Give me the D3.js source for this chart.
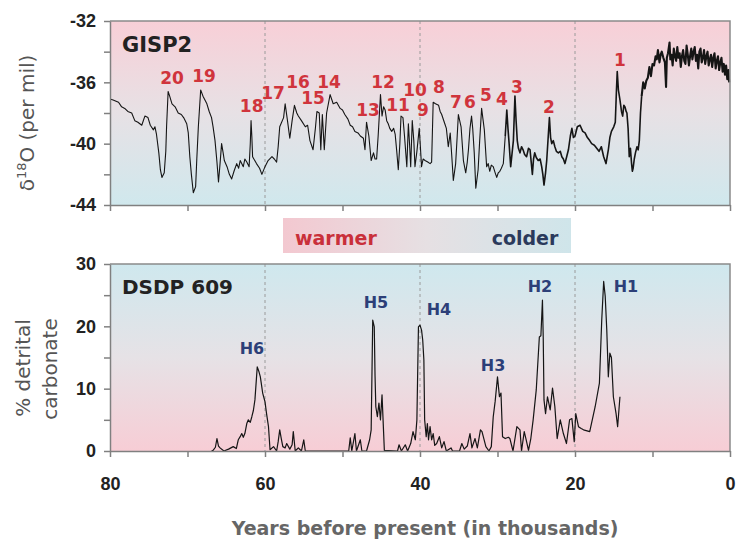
<!DOCTYPE html>
<html>
<head>
<meta charset="utf-8">
<script src="https://cdn.jsdelivr.net/npm/d3@7/dist/d3.min.js"></script>
<style>
body { margin: 0; background: #fff; }
svg { display: block; font-family: "DejaVu Sans", sans-serif; }
.axis path, .axis line { stroke: #808080; stroke-width: 1.5; }
.axis text { font-size: 18px; font-weight: bold; fill: #222; }
</style>
</head>
<body>
<svg id="chart" width="736" height="540"></svg>
<script>

// GISP2 oxygen isotope record (ka BP, per mil)
const GISP_AGE = [79.9,79.6,78.9,78.5,78.1,77.7,77.2,76.8,76.4,75.9,75.5,75.1,74.8,74.4,74.2,74.0,73.7,73.5,73.3,73.0,
	72.8,72.7,72.5,72.3,72.0,71.6,71.2,70.8,70.5,70.1,69.9,69.7,69.5,69.25,68.95,68.8,68.6,68.3,68.0,67.5,
	67.2,66.9,66.7,66.45,66.2,66.0,65.8,65.6,65.4,65.25,64.9,64.6,64.3,64.0,63.65,63.4,63.2,62.8,62.6,62.35,
	62.05,61.9,61.8,61.7,61.6,61.1,60.7,60.4,60.0,59.6,59.1,58.8,58.5,58.3,58.1,57.6,57.4,57.1,56.8,56.5,
	56.2,55.9,55.7,55.3,54.8,54.5,54.2,53.8,53.5,53.3,53.0,52.8,52.6,52.35,52.05,51.6,51.2,50.75,50.3,50.0,
	49.7,49.3,49.0,48.7,48.4,48.0,47.7,47.3,47.1,46.9,46.6,46.3,46.0,45.8,45.6,45.4,45.1,44.9,44.7,44.5,
	44.3,44.1,43.9,43.65,43.4,43.2,43.0,42.8,42.6,42.45,42.2,42.0,41.7,41.5,41.35,41.2,41.0,40.8,40.65,40.4,
	40.1,39.95,39.8,39.6,39.35,39.0,38.7,38.5,38.3,38.0,37.6,37.4,37.2,36.8,36.6,36.35,36.1,35.9,35.7,35.4,
	35.2,35.05,34.7,34.55,34.4,34.1,33.9,33.75,33.55,33.35,33.2,33.0,32.8,32.5,32.3,32.05,31.85,31.7,31.4,31.2,
	31.0,30.8,30.55,30.3,30.1,29.9,29.7,29.5,29.25,29.0,28.8,28.65,28.5,28.3,27.95,27.75,27.6,27.45,27.3,27.1,
	26.9,26.7,26.5,26.25,26.0,25.8,25.65,25.5,25.35,25.2,25.0,24.75,24.5,24.3,24.15,24.0,23.8,23.65,23.45,23.3,
	23.15,23.0,22.8,22.6,22.4,22.15,21.9,21.7,21.5,21.3,21.05,20.85,20.6,20.4,20.2,20.0,19.7,19.35,19.0,18.7,
	18.4,18.1,17.85,17.5,17.2,16.9,16.6,16.3,16.0,15.7,15.5,15.3,15.0,14.8,14.65,14.55,14.4,14.2,14.0,13.85,
	13.7,13.55,13.4,13.3,13.15,13.0,12.85,12.7,12.6,12.5,12.35,12.2,12.0,11.85,11.7,11.55,11.4,11.2,11.0,10.8,
	10.6,10.4,10.2,10.0,9.8,9.6,9.45,9.3,9.1,8.95,8.8,8.6,8.4,8.25,8.15,8.0,7.8,7.7,7.55,7.4,
	7.25,7.1,6.95,6.8,6.65,6.5,6.35,6.2,6.05,5.9,5.75,5.6,5.45,5.3,5.15,5.0,4.85,4.7,4.55,4.4,
	4.25,4.1,3.95,3.8,3.65,3.5,3.35,3.2,3.05,2.9,2.75,2.6,2.45,2.3,2.15,2.0,1.85,1.7,1.55,1.4,
	1.25,1.1,0.95,0.8,0.65,0.5,0.35,0.2,0.1];
const GISP_D18O = [-37.1,-37.15,-37.3,-37.6,-37.7,-37.9,-38.0,-38.5,-38.6,-38.8,-38.2,-38.3,-38.8,-39.1,-38.9,-39.4,-40.6,-41.7,-42.2,-41.9,
	-40.5,-38.9,-36.6,-36.9,-37.4,-37.6,-38.0,-38.1,-38.3,-38.7,-39.3,-40.85,-42.0,-43.2,-42.8,-41.0,-38.9,-36.5,-36.9,-37.4,
	-37.9,-38.3,-38.9,-39.8,-41.2,-42.5,-41.3,-40.0,-40.6,-41.1,-41.5,-42.0,-42.3,-41.8,-41.3,-41.6,-41.1,-41.5,-41.0,-41.2,
	-41.5,-40.0,-38.5,-39.5,-40.85,-41.3,-41.6,-42.0,-41.5,-41.1,-40.85,-41.0,-41.2,-40.2,-38.9,-38.3,-37.4,-38.5,-39.65,-38.5,
	-37.5,-38.0,-38.2,-38.5,-38.9,-38.8,-39.8,-40.4,-39.0,-37.9,-38.0,-40.4,-38.1,-40.4,-38.0,-36.8,-37.4,-37.3,-37.7,-37.8,
	-38.1,-38.4,-38.8,-38.9,-39.2,-39.3,-39.5,-39.65,-40.4,-38.6,-39.5,-41.1,-40.6,-41.0,-41.0,-39.5,-36.8,-38.2,-37.6,-37.8,
	-38.5,-38.7,-39.0,-39.2,-39.0,-39.4,-40.5,-41.7,-40.0,-38.2,-38.3,-39.5,-41.5,-38.7,-40.0,-41.5,-38.5,-39.8,-41.5,-40.5,
	-39.0,-40.2,-41.5,-41.0,-41.1,-41.2,-41.3,-41.2,-37.3,-37.4,-37.5,-37.9,-38.1,-38.7,-39.0,-40.2,-39.3,-40.8,-42.4,-41.3,
	-39.5,-38.1,-38.9,-40.0,-41.1,-41.9,-41.2,-40.4,-39.0,-38.2,-39.0,-40.6,-42.9,-41.7,-39.8,-37.7,-38.5,-39.1,-41.5,-41.3,
	-41.8,-41.4,-41.5,-41.9,-42.2,-41.9,-41.8,-41.6,-41.3,-39.5,-37.8,-39.0,-40.0,-41.5,-39.8,-36.9,-38.5,-39.8,-40.3,-40.6,
	-40.2,-40.4,-40.7,-40.85,-40.3,-40.4,-41.2,-42.0,-41.0,-40.6,-40.9,-41.1,-41.0,-41.5,-42.0,-42.7,-41.9,-41.1,-39.5,-38.3,
	-39.6,-40.0,-39.8,-40.2,-40.5,-40.6,-40.5,-40.85,-41.0,-41.3,-40.8,-40.4,-39.5,-39.0,-39.6,-39.5,-38.9,-38.8,-39.2,-39.3,
	-39.6,-39.8,-40.0,-40.1,-40.3,-40.5,-40.2,-40.85,-41.3,-40.4,-39.6,-39.2,-38.9,-38.6,-36.5,-35.3,-36.5,-37.15,-37.9,-38.2,
	-37.5,-37.6,-37.9,-38.0,-39.0,-40.85,-40.3,-41.3,-41.8,-41.6,-41.0,-40.6,-40.2,-40.4,-39.8,-38.0,-36.9,-36.0,-36.4,-35.9,
	-35.7,-35.0,-35.6,-34.8,-34.9,-34.3,-34.5,-33.9,-34.7,-34.2,-34.0,-34.4,-34.7,-36.3,-34.4,-34.1,-33.4,-34.5,-34.2,-34.9,
	-33.8,-34.3,-34.6,-33.7,-34.4,-34.1,-35.0,-34.3,-33.9,-34.6,-34.8,-33.6,-34.2,-34.9,-34.3,-33.8,-34.5,-34.0,-33.7,-34.6,
	-34.2,-35.1,-34.0,-33.8,-34.7,-34.4,-33.9,-34.8,-34.3,-34.0,-34.9,-34.5,-34.2,-35.0,-34.4,-34.1,-35.1,-34.6,-34.3,-35.2,
	-34.7,-34.4,-35.3,-34.8,-35.5,-34.9,-35.8,-35.2,-36.0];

// DSDP 609 detrital carbonate (ka BP, %)
const DSDP_AGE = [66.9,66.7,66.4,66.2,66.0,65.8,65.3,64.7,64.1,63.7,63.45,63.2,63.0,62.8,62.6,62.35,62.15,61.9,61.7,61.5,
	61.3,61.0,60.8,60.6,60.3,60.0,59.8,59.55,59.35,58.9,58.5,58.3,58.1,57.9,57.7,57.4,57.2,56.8,56.5,56.35,
	56.1,55.7,55.3,55.0,54.8,49.2,49.0,48.8,48.4,48.2,47.7,47.5,46.9,46.5,46.3,46.1,45.9,45.8,45.7,45.5,
	45.3,45.1,44.9,44.6,42.9,42.7,42.4,41.9,41.6,41.2,40.9,40.6,40.4,40.2,40.0,39.8,39.65,39.5,39.4,39.2,
	39.05,38.9,38.7,38.5,38.3,38.1,37.85,37.5,37.2,36.9,36.6,36.0,35.8,34.9,34.6,34.3,33.9,33.55,33.3,32.9,
	32.6,32.2,32.0,31.5,31.1,30.8,30.55,30.3,30.0,29.75,29.55,29.35,29.0,28.6,28.4,28.0,27.5,27.1,26.9,26.55,
	26.3,26.0,25.7,25.4,25.0,24.6,24.4,24.2,24.1,24.0,23.8,23.55,23.2,22.9,22.6,22.3,21.9,21.5,21.1,20.7,
	20.4,20.1,19.9,19.55,19.2,18.9,18.1,17.4,16.85,16.55,16.3,16.1,15.9,15.7,15.5,15.3,15.05,14.7,14.5,14.2];
const DSDP_PCT = [0,0.1,0.6,2.0,0.8,0.5,0,0.3,0.7,0.4,1.8,2.3,2.8,2.2,2.8,4.4,5.0,4.6,5.5,6.5,
	8.2,13.5,12.8,11.9,9.3,7.9,6.0,3.9,0.2,0.7,0,1.5,3.4,2.0,0.7,0.5,1.2,0.3,1.0,3.1,
	0,0.5,0,1.8,0,0,2.1,0,2.8,0,1.8,0,0,1.8,3.4,21.0,19.9,12.0,7.1,5.5,
	7.7,5.0,9.0,0.1,0,1.0,0,1.0,0,1.2,3.1,1.8,5.0,19.9,20.2,19.4,17.8,14.6,5.0,2.3,
	4.4,1.8,3.9,1.8,2.8,0.9,1.2,2.3,0.5,1.5,0,0.5,0,0,1.2,0.3,0.8,2.8,0.5,2.0,
	0.5,3.4,3.1,0.7,0,0.7,5.5,8.0,11.9,8.7,9.3,2.3,2.0,2.2,2.0,0,3.9,3.4,0,3.1,
	1.8,0.1,2.0,5.0,9.8,18.3,18.5,24.2,18.3,8.2,6.0,8.7,6.6,10.1,7.1,2.0,5.0,2.8,1.2,5.0,
	5.2,1.5,6.0,3.9,3.6,3.4,3.1,7.1,10.9,21.0,27.2,24.8,19.4,11.9,15.7,15.0,8.7,6.0,3.9,8.7];

// Dansgaard-Oeschger interstadials, label anchor (ka, per mil)
const DO_NAMES = ['20','19','18','17','16','15','14','13','12','11','10','9','8','7','6','5','4','3','2','1'];
const DO_AGE = [72.0,67.87,61.72,58.97,55.74,53.81,51.74,46.71,44.77,42.84,40.65,39.61,37.55,35.35,33.55,31.48,29.42,27.48,23.35,14.19];
const DO_D18O = [-35.72,-35.59,-37.54,-36.70,-35.98,-37.02,-35.98,-37.80,-35.98,-37.48,-36.50,-37.80,-36.30,-37.28,-37.28,-36.83,-37.09,-36.30,-37.61,-34.54];

// Heinrich events, label anchor (ka, %)
const H_NAMES = ['H6','H5','H4','H3','H2','H1'];
const H_AGE = [61.68,45.68,37.55,30.58,24.52,13.42];
const H_PCT = [16.5,23.9,22.8,13.8,26.5,26.5];

const X_TICKS = [80,70,60,50,40,30,20,10,0];
const GRID_AGES = [60,40,20];

const gisp = GISP_AGE.map((a,i) => ({age: a, v: GISP_D18O[i]}));
const dsdp = DSDP_AGE.map((a,i) => ({age: a, v: DSDP_PCT[i]}));

const svg = d3.select('#chart');
const L = 110, R = 730;
const x = d3.scaleLinear().domain([80, 0]).range([L, R]);
const yTop = d3.scaleLinear().domain([-44, -32]).range([205, 21]);
const yBot = d3.scaleLinear().domain([0, 30]).range([451, 264]);

// gradients
const defs = svg.append('defs');
function grad(id, stops, horiz) {
	let g = defs.append('linearGradient').attr('id', id)
		.attr('x1', 0).attr('y1', 0).attr('x2', horiz ? 1 : 0).attr('y2', horiz ? 0 : 1);
	stops.forEach(s => g.append('stop').attr('offset', s[0]).attr('stop-color', s[1]));
}
grad('warmCold', [[0, '#f8cfd7'], [0.5, '#e7e1e5'], [1, '#d0e8ed']]);
grad('coldWarm', [[0, '#cfe8ee'], [0.5, '#e6e2e6'], [1, '#f7cdd5']]);
grad('banner', [[0, '#f3c8d0'], [0.5, '#e6e0e3'], [1, '#cfe5ea']], true);

function panel(y, parts, yTicks, labelEvery, xLabels) {
	let g = svg.append('g');
	let [y0, y1] = y.range();
	g.append('rect').attr('x', L).attr('y', y1).attr('width', R - L).attr('height', y0 - y1)
		.attr('fill', y === yTop ? 'url(#warmCold)' : 'url(#coldWarm)');
	g.selectAll('.grid').data(GRID_AGES).enter().append('line')
		.attr('x1', d => x(d)).attr('x2', d => x(d)).attr('y1', y1).attr('y2', y0)
		.attr('stroke', '#9a9a9a').attr('stroke-width', 1).attr('stroke-dasharray', '3,3');
	// each part: [points, stroke width]; the densely sampled young end reads thicker
	parts.forEach(p => {
		g.append('path').datum(p[0])
			.attr('d', d3.line().x(d => x(d.age)).y(d => y(d.v)))
			.attr('fill', 'none').attr('stroke', '#151515').attr('stroke-width', p[1])
			.attr('stroke-linejoin', 'round');
	});
	// frame top and right
	g.append('path').attr('d', `M${L},${y1}H${R}V${y0}`)
		.attr('fill', 'none').attr('stroke', '#8a8a8a').attr('stroke-width', 1.5);
	g.append('g').attr('class', 'axis').attr('transform', `translate(${L},0)`)
		.call(d3.axisLeft(y).tickValues(yTicks).tickSize(6).tickSizeOuter(0).tickPadding(8)
			.tickFormat(d => d % labelEvery === 0 ? d : ''));
	g.append('g').attr('class', 'axis').attr('transform', `translate(0,${y0})`)
		.call(d3.axisBottom(x).tickValues(X_TICKS).tickSize(6).tickSizeOuter(0).tickPadding(20)
			.tickFormat(d => xLabels && d % 20 === 0 ? d : ''));
	return g;
}

panel(yTop, [[gisp.filter(d => d.age >= 29), 1.1],
	[gisp.filter(d => d.age <= 29 && d.age >= 11.4), 1.6],
	[gisp.filter(d => d.age <= 11.4), 2.1]], d3.range(-44, -31, 2), 4, false);
panel(yBot, [[dsdp, 1.2]], d3.range(0, 31, 5), 10, true);

// event labels
svg.append('g').selectAll('text').data(DO_NAMES).enter().append('text')
	.attr('x', (d, i) => x(DO_AGE[i])).attr('y', (d, i) => yTop(DO_D18O[i]))
	.attr('dy', '0.36em').attr('text-anchor', 'middle')
	.attr('font-size', 17).attr('font-weight', 'bold').attr('fill', '#d0343c')
	.text(d => d);
svg.append('g').selectAll('text').data(H_NAMES).enter().append('text')
	.attr('x', (d, i) => x(H_AGE[i])).attr('y', (d, i) => yBot(H_PCT[i]))
	.attr('dy', '0.36em').attr('text-anchor', 'middle')
	.attr('font-size', 16).attr('font-weight', 'bold').attr('fill', '#2c3f78')
	.text(d => d);

svg.append('text').attr('x', 122).attr('y', 52).attr('font-size', 21).attr('font-weight', 'bold')
	.attr('fill', '#222').text('GISP2');
svg.append('text').attr('x', 122).attr('y', 294).attr('font-size', 20).attr('font-weight', 'bold')
	.attr('fill', '#222').text('DSDP 609');

// warmer / colder banner
svg.append('rect').attr('x', 283).attr('y', 218).attr('width', 288).attr('height', 35).attr('fill', 'url(#banner)');
svg.append('text').attr('x', 295).attr('y', 245).attr('font-size', 19).attr('font-weight', 'bold')
	.attr('fill', '#c9303a').text('warmer');
svg.append('text').attr('x', 525).attr('y', 245).attr('text-anchor', 'middle').attr('font-size', 19)
	.attr('font-weight', 'bold').attr('fill', '#2b3a5c').text('colder');

// axis titles
let yt = svg.append('text').attr('transform', 'translate(34,123) rotate(-90)').attr('text-anchor', 'middle')
	.attr('font-size', 20).attr('fill', '#555');
yt.append('tspan').text('δ');
yt.append('tspan').attr('font-size', 13).attr('dy', -8).text('18');
yt.append('tspan').attr('dy', 8).text('O (per mil)');

svg.append('text').attr('transform', 'translate(30,368) rotate(-90)').attr('text-anchor', 'middle')
	.attr('font-size', 20).attr('fill', '#555').text('% detrital');
svg.append('text').attr('transform', 'translate(57,369) rotate(-90)').attr('text-anchor', 'middle')
	.attr('font-size', 20).attr('fill', '#555').text('carbonate');

svg.append('text').attr('x', 425).attr('y', 535).attr('text-anchor', 'middle')
	.attr('font-size', 19).attr('font-weight', 'bold').attr('fill', '#666')
	.text('Years before present (in thousands)');

</script>
</body>
</html>
